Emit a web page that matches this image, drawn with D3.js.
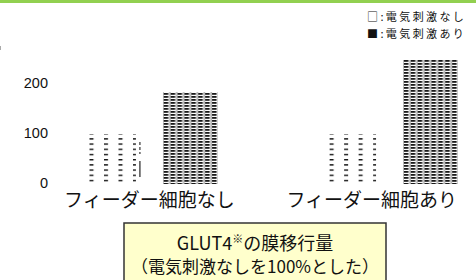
<!DOCTYPE html>
<html>
<head>
<meta charset="utf-8">
<script src="https://cdn.jsdelivr.net/npm/d3@7"></script>
<style>
body{margin:0;background:#fff;}
svg{display:block;}
</style>
</head>
<body>
<script>
var groups = ['フィーダー細胞なし','フィーダー細胞あり'];
var series = ['電気刺激なし','電気刺激あり'];
var valNashi = [100, 100];
var valAri = [184, 248];
var yTicks = [0, 100, 200];

var W = 476, H = 280;
var svg = d3.select('body').append('svg').attr('width', W).attr('height', H);
var defs = svg.append('defs');

// top green band
svg.append('rect').attr('x',0).attr('y',0).attr('width',W).attr('height',3).attr('fill','#92d050');
svg.append('rect').attr('x',0).attr('y',46).attr('width',1).attr('height',4).attr('fill','#aaa');

// patterns
var p1 = defs.append('pattern').attr('id','sparse').attr('patternUnits','userSpaceOnUse')
  .attr('width',14.5).attr('height',5.2).attr('x',81).attr('y',133);
p1.append('rect').attr('x',0).attr('y',0).attr('width',4).attr('height',1.4).attr('fill','#111');
var p2 = defs.append('pattern').attr('id','dense').attr('patternUnits','userSpaceOnUse')
  .attr('width',6.9).attr('height',3).attr('x',0).attr('y',0);
p2.append('rect').attr('x',0).attr('y',0).attr('width',4.5).attr('height',1.8).attr('fill','#1a1a1a');
p2.append('rect').attr('x',5.6).attr('y',0).attr('width',0.8).attr('height',3).attr('fill','#666');

var y = d3.scaleLinear().domain([0, 200]).range([184, 84]);
var x0 = d3.scaleBand().domain(groups).range([81, 458]).paddingInner(0.43).paddingOuter(0);
var x1 = d3.scaleBand().domain(series).range([0, x0.bandwidth()]).paddingInner(0.33);

var rows = groups.map(function(g,i){ return {g:g, v:[valNashi[i], valAri[i]]}; });

var gg = svg.selectAll('g.grp').data(rows).enter().append('g')
  .attr('class','grp')
  .attr('transform', function(d){ return 'translate(' + x0(d.g) + ',0)'; });
gg.selectAll('rect').data(function(d){ return d.v.map(function(v,j){ return {s:series[j], v:v}; }); })
  .enter().append('rect')
  .attr('x', function(d){ return x1(d.s); })
  .attr('y', function(d){ return y(d.v); })
  .attr('width', x1.bandwidth())
  .attr('height', function(d){ return y(0) - y(d.v); })
  .attr('fill', function(d,j){ return j === 0 ? 'url(#sparse)' : 'url(#dense)'; });

// odd little error mark next to first bar
var ex = x0(groups[0]) + x1(series[0]) + x1.bandwidth() + 4;
svg.append('line').attr('x1',ex).attr('x2',ex).attr('y1',y(84)).attr('y2',y(60))
  .attr('stroke','#333').attr('stroke-width',1.2).attr('stroke-dasharray','3,2');
svg.append('line').attr('x1',ex).attr('x2',ex).attr('y1',y(46)).attr('y2',y(14))
  .attr('stroke','#222').attr('stroke-width',1.2);

// y tick labels
svg.selectAll('text.yt').data(yTicks).enter().append('text')
  .attr('class','yt')
  .attr('x', 48).attr('y', function(d){ return y(d) - 1; })
  .attr('dy','0.35em').attr('text-anchor','end')
  .attr('font-family','Liberation Sans, Arial, sans-serif').attr('font-size',14.5).attr('fill','#111')
  .text(function(d){ return d; });

// x labels
svg.selectAll('text.xl').data(groups).enter().append('text')
  .attr('class','xl')
  .attr('y', 207)
  .attr('text-anchor','middle')
  .attr('font-family','Noto Sans CJK JP, sans-serif').attr('font-size',19).attr('fill','#111')
  .text(function(d){ return d; })
  .attr('x', function(d){
    var c = x0(d) + x0.bandwidth()/2;
    var w = this.getComputedTextLength();
    return Math.min(c, W - 19 - w/2);
  });

// legend
var leg = ['□:電気刺激なし','■:電気刺激あり'];
svg.selectAll('text.lg').data(leg).enter().append('text')
  .attr('class','lg')
  .attr('x', 367).attr('y', function(d,i){ return 21 + i*16.5; })
  .attr('font-family','Noto Sans CJK JP, sans-serif').attr('font-size',11)
  .attr('letter-spacing',2.4).attr('fill','#111')
  .text(function(d){ return d; });

// caption box
svg.append('rect').attr('x',124).attr('y',223).attr('width',262).attr('height',70)
  .attr('fill','#ffffcc').attr('stroke','#333').attr('stroke-width',1.5);
var t1 = svg.append('text').attr('x',255).attr('y',250).attr('text-anchor','middle')
  .attr('font-family','Noto Sans CJK JP, sans-serif').attr('font-size',18).attr('fill','#111');
t1.append('tspan').text('GLUT4');
t1.append('tspan').attr('font-size',11).attr('dy',-7).text('※');
t1.append('tspan').attr('dy',7).text('の膜移行量');
svg.append('text').attr('x',255).attr('y',273).attr('text-anchor','middle')
  .attr('font-family','Noto Sans CJK JP, sans-serif').attr('font-size',17).attr('fill','#111')
  .text('（電気刺激なしを100%とした）');
</script>
</body>
</html>
